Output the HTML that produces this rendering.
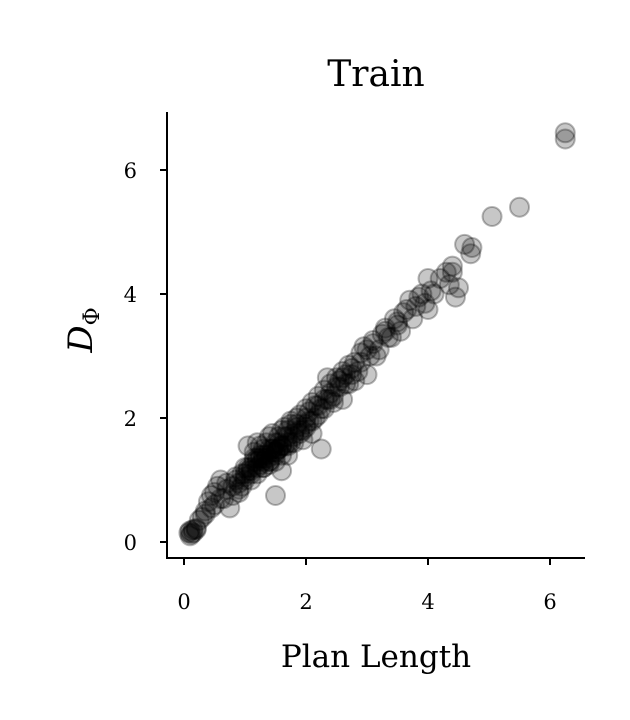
<!DOCTYPE html>
<html><head><meta charset="utf-8"><style>
html,body{margin:0;padding:0;background:#fff;}
svg{display:block;font-family:"DejaVu Serif","Liberation Serif",serif;}
</style></head><body>
<svg id="chart" width="630" height="720" viewBox="0 0 630 720">
<text x="376" y="86" font-size="36" text-anchor="middle">Train</text>
<g id="points"></g>
<g id="axes"></g>
<text x="376" y="667" font-size="31" text-anchor="middle">Plan Length</text>
<g transform="translate(92,330) rotate(-90)">
<text x="0" y="0" font-size="34" font-style="italic" text-anchor="middle">D<tspan font-size="22" font-style="normal" dy="7">Φ</tspan></text>
</g>
</svg>
<script>
const xs=[0.08,0.1,0.12,0.15,0.1,0.2,0.3,0.35,0.4,0.45,0.5,0.55,0.6,0.6,0.7,0.75,0.8,0.85,0.9,0.95,1.0,1.05,1.1,1.15,1.2,1.2,1.25,1.3,1.3,1.35,1.4,1.4,1.45,1.5,1.5,1.5,1.55,1.6,1.6,1.65,1.7,1.7,1.75,1.8,1.8,1.85,1.9,1.95,2.0,2.0,2.05,2.1,2.1,2.15,2.2,2.25,2.3,2.3,2.35,2.4,2.45,2.5,2.55,2.6,2.65,2.7,2.75,2.8,2.9,2.95,3.0,3.05,3.1,3.2,3.25,3.3,3.4,3.45,3.5,3.6,3.7,3.8,3.9,4.0,4.0,4.1,4.3,4.35,4.4,4.45,4.5,4.6,4.7,4.72,5.05,5.5,6.25,6.25,
1.1,1.2,1.3,1.4,1.25,1.35,1.45,1.55,1.65,1.0,0.9,1.05,1.15,1.6,1.7,1.5,1.4,1.3,
0.25,0.35,0.45,0.5,0.65,0.7,0.8,0.85,0.95,1.0,1.05,1.1,1.15,1.2,1.25,1.3,1.35,1.4,1.45,1.5,1.55,1.6,1.65,1.7,1.75,1.8,1.85,1.9,1.95,2.0,2.05,2.1,2.15,2.2,2.25,2.3,2.35,2.4,2.45,2.5,2.55,2.6,2.65,2.7,2.75,2.8,2.85,2.9,3.0,3.1,3.15,3.3,3.35,3.5,3.55,3.65,3.75,3.85,3.95,4.05,4.2,4.4,0.15,0.2,1.2,1.3,1.5,1.6,1.75,1.9,0.9,1.0,1.1,1.25,1.45,1.55,1.7,1.85,2.0,2.2,2.4,2.6];
const ys=[0.15,0.18,0.13,0.2,0.1,0.22,0.4,0.5,0.65,0.75,0.6,0.9,1.0,0.7,0.85,0.55,0.9,1.0,0.8,1.1,1.2,1.55,1.0,1.3,1.6,1.1,1.4,1.2,1.5,1.35,1.7,1.25,1.45,0.75,1.6,1.3,1.5,1.8,1.15,1.55,1.7,1.4,1.9,1.6,1.75,2.0,1.8,1.65,2.0,1.85,2.1,1.95,1.75,2.2,2.05,1.5,2.3,2.15,2.65,2.4,2.25,2.5,2.6,2.3,2.7,2.55,2.8,2.6,2.9,3.15,2.7,3.0,3.2,3.1,3.35,3.4,3.3,3.6,3.5,3.7,3.9,3.8,4.0,4.25,3.75,4.0,4.35,4.15,4.45,3.95,4.1,4.8,4.65,4.75,5.25,5.4,6.6,6.5,
1.2,1.3,1.4,1.5,1.25,1.4,1.5,1.6,1.7,1.1,0.95,1.15,1.35,1.55,1.6,1.4,1.3,1.2,
0.35,0.45,0.55,0.8,0.7,0.95,0.75,1.05,0.9,1.0,1.2,1.1,1.45,1.2,1.55,1.35,1.6,1.3,1.75,1.45,1.7,1.4,1.85,1.55,1.95,1.7,1.85,2.05,1.8,2.15,1.95,2.25,2.0,2.35,2.15,2.45,2.3,2.55,2.35,2.65,2.5,2.75,2.55,2.85,2.7,2.9,2.75,3.05,3.1,3.25,3.0,3.45,3.3,3.55,3.4,3.75,3.6,3.95,3.85,4.05,4.25,4.35,0.15,0.2,1.35,1.3,1.45,1.55,1.6,1.75,0.85,1.05,1.15,1.35,1.5,1.5,1.8,1.9,1.9,2.2,2.3,2.65];
const xTicks=[0,2,4,6];
const yTicks=[0,2,4,6];
const sx=v=>184+v*61, sy=v=>542-v*62;
const NS="http://www.w3.org/2000/svg";
const pg=document.getElementById('points');
xs.forEach((x,i)=>{const c=document.createElementNS(NS,'circle');
c.setAttribute('cx',sx(x));c.setAttribute('cy',sy(ys[i]));c.setAttribute('r',9.5);
c.setAttribute('fill','rgba(0,0,0,0.22)');c.setAttribute('stroke','rgba(0,0,0,0.28)');c.setAttribute('stroke-width','2');


pg.appendChild(c);});
const ag=document.getElementById('axes');
function add(tag,attrs,txt){const e=document.createElementNS(NS,tag);for(const k in attrs)e.setAttribute(k,attrs[k]);if(txt!==undefined)e.textContent=txt;ag.appendChild(e);return e;}
let l=add('line',{x1:167,y1:112,x2:167,y2:559,stroke:'#000','stroke-width':2});


l=add('line',{x1:166,y1:558,x2:585,y2:558,stroke:'#000','stroke-width':2});


xTicks.forEach(t=>{add('line',{x1:sx(t),y1:558,x2:sx(t),y2:565,stroke:'#000','stroke-width':2});
const tx=add('text',{x:sx(t),y:609,'font-size':21,'text-anchor':'middle'},String(t));

});
yTicks.forEach(t=>{add('line',{x1:160,y1:sy(t),x2:167,y2:sy(t),stroke:'#000','stroke-width':2});
const tx=add('text',{x:137,y:sy(t)+8,'font-size':21,'text-anchor':'end'},String(t));

});
</script>
</body></html>
